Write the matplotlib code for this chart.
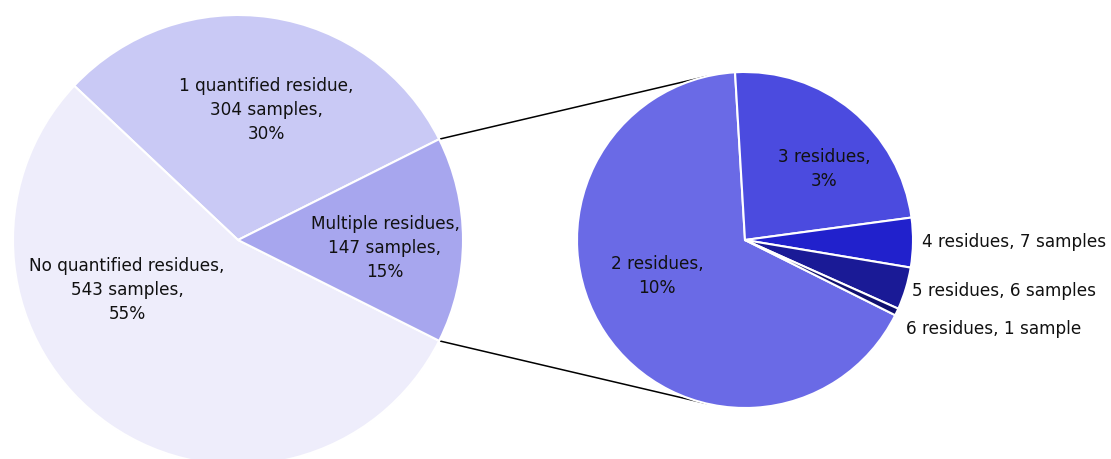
import numpy as np
import matplotlib
matplotlib.use('Agg')
import matplotlib.pyplot as plt

plt.rcParams['font.family'] = ['DejaVu Sans']

# 主饼图数据
main_labels = ['1 quantified residue', 'No quantified residues', 'Multiple residues']
main_counts = [304, 543, 147]
main_pcts = ['30%', '55%', '15%']
main_colors = ['#C9C9F5', '#EEEDFB', '#A7A6EE']

# 子饼图数据（Multiple residues 拆分）
sub_labels = ['2 residues', '3 residues', '4 residues', '5 residues', '6 residues']
sub_counts = [98, 35, 7, 6, 1]
sub_pcts = ['10%', '3%', '', '', '']
sub_colors = ['#6A6AE6', '#4B4BDF', '#2121CC', '#1A1A96', '#10106E']

W, H = 1111, 459
FONT_SIZE = 12.2
LINE_SPACING = 1.43

fig = plt.figure(figsize=(W / 100, H / 100), dpi=100)
ax = fig.add_axes([0, 0, 1, 1])

# 像素坐标（y 向上）
left_center = (238, H - 240)
left_radius = 225
right_center = (745, H - 240)
right_radius = 168

wedge_style = dict(edgecolor='white', linewidth=1.5)

multi_share = main_counts[2] / sum(main_counts)
half_angle = 180 * multi_share
ax.pie(main_counts, colors=main_colors, startangle=half_angle,
       center=left_center, radius=left_radius, wedgeprops=wedge_style)

sub_start = 333.4
ax.pie(sub_counts, colors=sub_colors, startangle=sub_start, counterclock=False,
       center=right_center, radius=right_radius, wedgeprops=wedge_style)


def tangent_point(p, c, r, sign):
    vx, vy = p[0] - c[0], p[1] - c[1]
    d = np.hypot(vx, vy)
    phi = np.arctan2(vy, vx)
    a = phi + sign * np.arccos(r / d)
    return c[0] + r * np.cos(a), c[1] + r * np.sin(a)


# 连接线
for sign, ang in [(-1, half_angle), (1, -half_angle)]:
    rad = np.deg2rad(ang)
    p = (left_center[0] + left_radius * np.cos(rad),
         left_center[1] + left_radius * np.sin(rad))
    q = tangent_point(p, right_center, right_radius, sign)
    ax.plot([p[0], q[0]], [p[1], q[1]], color='black', linewidth=1.1,
            solid_capstyle='butt', zorder=0.5)

text_style = dict(fontsize=FONT_SIZE, color='#111111', linespacing=LINE_SPACING)

# 主饼图标签
main_text_pos = [(266, 110), (127, 290), (385, 248)]
for name, n, pct, (x, y) in zip(main_labels, main_counts, main_pcts, main_text_pos):
    ax.text(x, H - y, f'{name},\n{n} samples,\n{pct}', ha='center', va='center', **text_style)

# 子饼图标签
ax.text(657, H - 276, f'{sub_labels[0]},\n{sub_pcts[0]}', ha='center', va='center', **text_style)
ax.text(824, H - 169, f'{sub_labels[1]},\n{sub_pcts[1]}', ha='center', va='center', **text_style)
side_pos = [(922, 242), (912, 291), (906, 329)]
for name, n, (x, y) in zip(sub_labels[2:], sub_counts[2:], side_pos):
    unit = 'sample' if n == 1 else 'samples'
    ax.text(x, H - y, f'{name}, {n} {unit}', ha='left', va='center', **text_style)

ax.set_xlim(0, W)
ax.set_ylim(0, H)
ax.set_aspect('equal')
ax.axis('off')

fig.savefig('out.png', dpi=100)
